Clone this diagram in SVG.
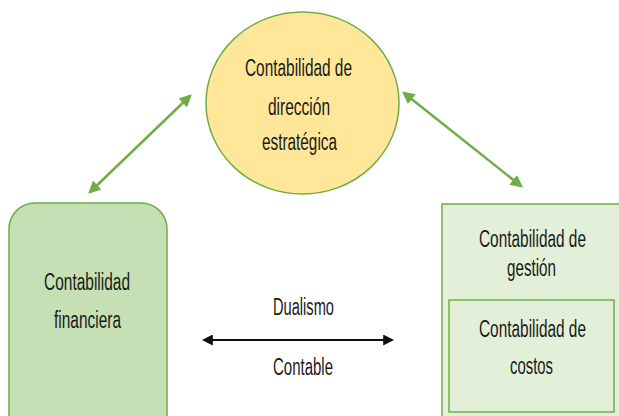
<svg xmlns="http://www.w3.org/2000/svg" width="619" height="416" viewBox="0 0 619 416">
<defs>
<style>
text{font-family:"Liberation Sans",Arial,sans-serif;font-size:23px;fill:#1a1a1a;}
.g{stroke:#70AD47;stroke-width:2.5;fill:none;}
.k{stroke:#111;stroke-width:2;fill:none;}
</style>
<marker id="ga" viewBox="0 0 10 10" refX="8" refY="5" markerWidth="5" markerHeight="5" orient="auto-start-reverse" markerUnits="strokeWidth"><path d="M0,0 L10,5 L0,10 z" fill="#70AD47"/></marker>
<marker id="ka" viewBox="0 0 10 10" refX="8" refY="5" markerWidth="5.5" markerHeight="5.5" orient="auto-start-reverse" markerUnits="strokeWidth"><path d="M0,0 L10,5 L0,10 z" fill="#111"/></marker>
</defs>
<rect width="619" height="416" fill="#fff"/>
<g id="connectors">
<line class="g" x1="190" y1="96" x2="90" y2="192" marker-start="url(#ga)" marker-end="url(#ga)"/>
<line class="g" x1="404" y1="93" x2="521" y2="186" marker-start="url(#ga)" marker-end="url(#ga)"/>
<line class="k" x1="204" y1="340" x2="392" y2="340" marker-start="url(#ka)" marker-end="url(#ka)"/>
</g>
<g id="node-direccion">
<ellipse cx="302.5" cy="103" rx="96.5" ry="91" fill="#FFE699" stroke="#70AD47" stroke-width="1.5"/>
<text x="245" y="76" textLength="107" lengthAdjust="spacingAndGlyphs">Contabilidad de</text>
<text x="268" y="115" textLength="62" lengthAdjust="spacingAndGlyphs">dirección</text>
<text x="262" y="150" textLength="75" lengthAdjust="spacingAndGlyphs">estratégica</text>
</g>
<g id="node-financiera">
<rect x="9" y="203" width="158" height="240" rx="26" fill="#C5E0B4" stroke="#70AD47" stroke-width="1.5"/>
<text x="44" y="290" textLength="86" lengthAdjust="spacingAndGlyphs">Contabilidad</text>
<text x="54" y="328" textLength="67" lengthAdjust="spacingAndGlyphs">financiera</text>
</g>
<g id="node-gestion">
<rect x="442" y="204" width="190" height="230" fill="#E2F0D9" stroke="#70AD47" stroke-width="1.5"/>
<text x="479" y="247" textLength="107" lengthAdjust="spacingAndGlyphs">Contabilidad de</text>
<text x="507" y="276" textLength="49" lengthAdjust="spacingAndGlyphs">gestión</text>
</g>
<g id="node-costos">
<rect x="449" y="300" width="165" height="112" fill="#E2F0D9" stroke="#70AD47" stroke-width="1.5"/>
<text x="479" y="337" textLength="107" lengthAdjust="spacingAndGlyphs">Contabilidad de</text>
<text x="510" y="374" textLength="43" lengthAdjust="spacingAndGlyphs">costos</text>
</g>
<g id="label-dualismo">
<text x="273" y="315" textLength="61" lengthAdjust="spacingAndGlyphs">Dualismo</text>
<text x="273" y="375" textLength="60" lengthAdjust="spacingAndGlyphs">Contable</text>
</g>
</svg>
